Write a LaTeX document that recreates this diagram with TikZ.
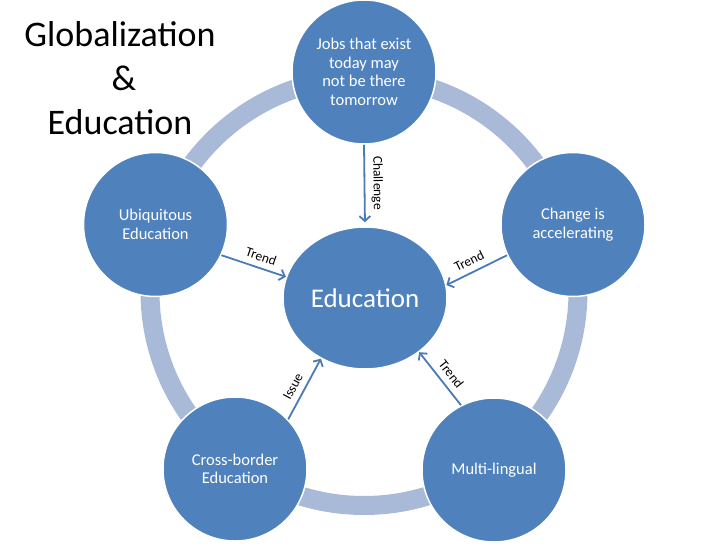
\documentclass[tikz,border=0pt]{standalone}
\usepackage{fontspec}
\setmainfont{Carlito}
\usetikzlibrary{arrows.meta,shapes.geometric}
\definecolor{cblue}{RGB}{79,129,189}
\definecolor{ringblue}{RGB}{168,186,216}
\definecolor{arrowblue}{RGB}{74,123,183}
\begin{document}
\begin{tikzpicture}[x=1pt,y=-1pt,
  bubble/.style={circle, fill=cblue, draw=white, line width=1.5pt, minimum size=144pt, inner sep=0pt, text=white, align=center, font=\fontsize{16.5}{18.5}\selectfont},
  hub/.style={ellipse, fill=cblue, draw=white, line width=1.5pt, minimum width=164pt, minimum height=142pt, inner sep=0pt, text=white, font=\fontsize{27}{32}\selectfont},
  link/.style={draw=arrowblue, line width=1.8pt, -{Straight Barb[length=5pt,width=11pt]}},
  lab/.style={sloped, above=5pt, inner sep=1pt, font=\fontsize{13.5}{15}\selectfont, text=black},
  heading/.style={align=center, font=\fontsize{36}{44}\selectfont}
]
\useasboundingbox[fill=white] (0,0) rectangle (728,546);
% ring
\coordinate (rc) at (364,291.5);
\draw[ringblue, line width=19pt] (rc) circle[radius=214pt];
% title
\node[heading] (title) at (120,78) {Globalization\\\hspace*{8pt}\&\\Education};
% nodes
\node[hub] (ed) at (365,298) {Education};
\node[bubble] (jobs) at (364,72) {Jobs that exist\\today may\\not be there\\tomorrow};
\node[bubble] (chg) at (573,224.5) {Change is\\accelerating};
\node[bubble] (ubi) at (155.5,224.5) {Ubiquitous\\Education};
\node[bubble] (cross) at (235,469) {Cross-border\\Education};
\node[bubble] (multi) at (494,470) {Multi-lingual};
% connectors
\draw[link, shorten >=4pt] (jobs.-90) -- node[lab, pos=0.47] {Challenge} (ed.90);
\draw[link] (ubi.-25) -- node[lab, pos=0.56] {Trend} (ed.165);
\draw[link] (chg.205) -- node[lab, pos=0.54] {Trend} (ed.9);
\draw[link] (multi.117) -- node[lab, pos=0.45] {Trend} (ed.-45);
\draw[link] (cross.43) -- node[lab, pos=0.45] {Issue} (ed.-126);
\end{tikzpicture}
\end{document}
